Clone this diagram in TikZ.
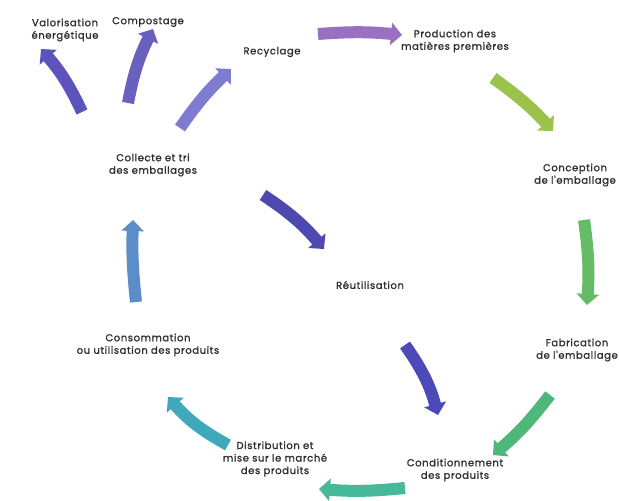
\documentclass[tikz,border=0pt]{standalone}
\usepackage{fontspec}
\setmainfont{Poppins}
\newfontfamily\lblfont{Poppins}[FakeBold=1.2,LetterSpace=6]
\usetikzlibrary{arrows.meta}
\definecolor{cA}{HTML}{9A70C2}
\definecolor{cB}{HTML}{9BC24A}
\definecolor{cC}{HTML}{66BB66}
\definecolor{cD}{HTML}{4DB87A}
\definecolor{cE}{HTML}{45B99A}
\definecolor{cF}{HTML}{3FA8BB}
\definecolor{cG}{HTML}{5B8EC8}
\definecolor{cH}{HTML}{7D7CD0}
\definecolor{cI}{HTML}{6A60C0}
\definecolor{cJ}{HTML}{5C54BC}
\definecolor{cK}{HTML}{4F48B0}
\definecolor{cL}{HTML}{4C4AB8}
\definecolor{txt}{HTML}{2E2E2E}
\tikzset{
  lbl/.style={align=center, text=txt, font=\lblfont\fontsize{10}{12.5}\selectfont, inner sep=1pt},
  fat/.style={line width=12pt, draw=#1, -{Triangle[width=22pt,length=11pt,fill=#1]}},
}
\begin{document}
\begin{tikzpicture}[x=1pt,y=1pt]
\useasboundingbox (0,0) rectangle (619,501);
\fill[white] (0,0) rectangle (619,501);
% labels
\node[lbl] (val) at (65,471) {Valorisation\\énergétique};
\node[lbl] (comp) at (148,479) {Compostage};
\node[lbl] (rec) at (272,449) {Recyclage};
\node[lbl] (prod) at (455,460) {Production des\\matières premières};
\node[lbl] (conc) at (575,326) {Conception\\de l'emballage};
\node[lbl] (fab) at (577,151) {Fabrication\\de l'emballage};
\node[lbl] (cond) at (455,31) {Conditionnement\\des produits};
\node[lbl] (dist) at (275,42) {Distribution et\\mise sur le marché\\des produits};
\node[lbl] (cons) at (148,156) {Consommation\\ou utilisation des produits};
\node[lbl] (coll) at (153,336) {Collecte et tri\\des emballages};
\node[lbl] (reut) at (370,216) {Réutilisation};
% arrow end points
\coordinate (a1s) at (318,467); \coordinate (a1e) at (402,466);
\coordinate (a2s) at (493,423); \coordinate (a2e) at (553,370);
\coordinate (a3s) at (584,281); \coordinate (a3e) at (587,196);
\coordinate (a4s) at (550,106); \coordinate (a4e) at (493,46);
\coordinate (a5s) at (405,13);  \coordinate (a5e) at (319,12);
\coordinate (a6s) at (228,56);  \coordinate (a6e) at (168,104);
\coordinate (a7s) at (136,199); \coordinate (a7e) at (133,281);
\coordinate (a8s) at (180,373); \coordinate (a8e) at (231,432);
\coordinate (a9s) at (128,398); \coordinate (a9e) at (153,472);
\coordinate (a10s) at (82,389); \coordinate (a10e) at (41,452);
\coordinate (a11s) at (263,306); \coordinate (a11e) at (324,252);
\coordinate (a12s) at (405,156); \coordinate (a12e) at (438,86);
% arrows
\draw[fat=cA] (a1s) to[bend left=5] (a1e);
\draw[fat=cB] (a2s) to[bend left=6] (a2e);
\draw[fat=cC] (a3s) to[bend left=6] (a3e);
\draw[fat=cD] (a4s) to[bend left=6] (a4e);
\draw[fat=cE] (a5s) to[bend left=5] (a5e);
\draw[fat=cF] (a6s) to[bend left=10] (a6e);
\draw[fat=cG] (a7s) to[bend left=4] (a7e);
\draw[fat=cH] (a8s) to[bend left=6] (a8e);
\draw[fat=cI] (a9s) to[bend left=8] (a9e);
\draw[fat=cJ] (a10s) to[bend right=8] (a10e);
\draw[fat=cK] (a11s) to[bend left=8] (a11e);
\draw[fat=cL] (a12s) to[bend left=10] (a12e);
\end{tikzpicture}
\end{document}
